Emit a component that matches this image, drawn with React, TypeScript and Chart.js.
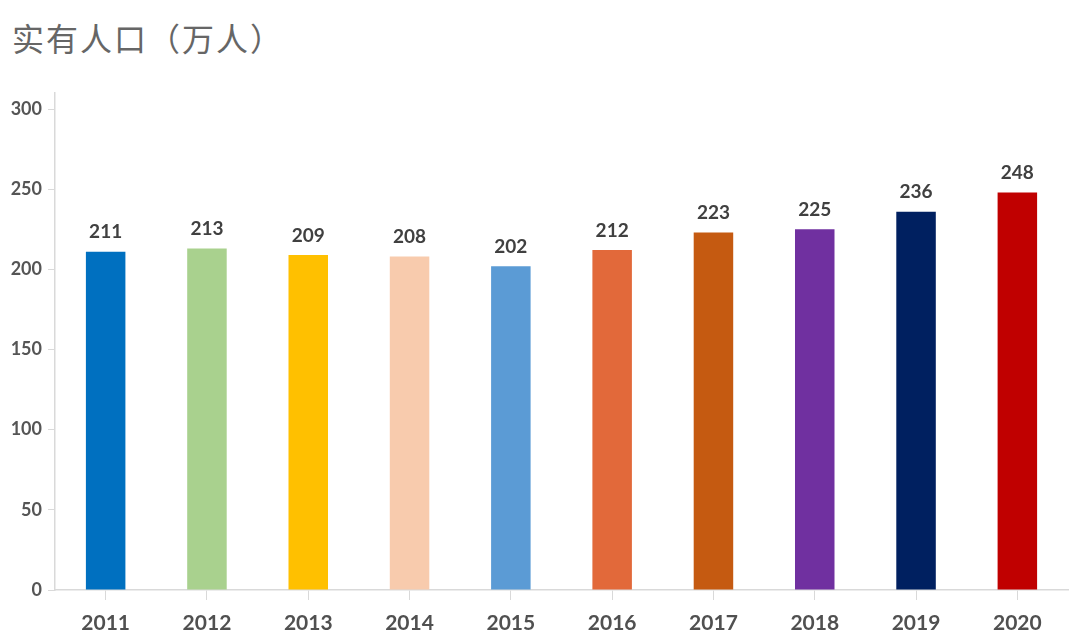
import React, { useEffect, useRef } from "react";
import { Chart, registerables } from "chart.js";

Chart.register(...registerables);

const years = ["2011", "2012", "2013", "2014", "2015", "2016", "2017", "2018", "2019", "2020"];
const population = [211, 213, 209, 208, 202, 212, 223, 225, 236, 248];
const barColors = [
  "#0070C0", "#A9D18E", "#FFC000", "#F8CBAD", "#5B9BD5",
  "#E2693A", "#C55A11", "#7030A0", "#002060", "#C00000",
];
const yTicks = [0, 50, 100, 150, 200, 250, 300];
const titleText = "实有人口（万人）";

const FONT = "Lato, 'Open Sans', 'Noto Sans', sans-serif";

const valueLabels = {
  id: "valueLabels",
  afterDatasetsDraw(chart: any) {
    const ctx = chart.ctx;
    const meta = chart.getDatasetMeta(0);
    ctx.save();
    ctx.font = `bold 19px ${FONT}`;
    ctx.fillStyle = "#404040";
    ctx.textAlign = "center";
    ctx.textBaseline = "bottom";
    meta.data.forEach((bar: any, i: number) => {
      ctx.fillText(String(population[i]), bar.x, bar.y - 10);
    });
    ctx.restore();
  },
};

export default function App() {
  const ref = useRef<HTMLCanvasElement | null>(null);
  useEffect(() => {
    if (!ref.current) return;
    const chart = new Chart(ref.current, {
      type: "bar",
      data: {
        labels: years,
        datasets: [
          {
            data: population,
            backgroundColor: barColors,
            borderWidth: 0,
            barPercentage: 0.78,
            categoryPercentage: 0.5,
          },
        ],
      },
      options: {
        animation: false,
        responsive: false,
        layout: { padding: { top: 93, right: 12, left: 0, bottom: 0 } },
        plugins: { legend: { display: false }, tooltip: { enabled: false }, title: { display: false } },
        scales: {
          x: {
            offset: true,
            grid: {
              offset: false,
              drawOnChartArea: false,
              drawTicks: true,
              tickLength: 10,
              color: "#d9d9d9",
            },
            border: { color: "#d9d9d9", width: 1.5 },
            ticks: {
              color: "#505050",
              font: { family: FONT, size: 21, weight: "bold" },
              padding: 11,
            },
            afterFit(scale: any) {
              scale.height = 54;
            },
          },
          y: {
            min: 0,
            max: 310,
            grid: {
              drawOnChartArea: false,
              drawTicks: true,
              tickLength: 7,
              color: "#d9d9d9",
            },
            border: { color: "#d9d9d9", width: 1.5 },
            ticks: {
              color: "#555555",
              font: { family: FONT, size: 18, weight: "bold" },
              padding: 6,
              stepSize: 50,
            },
            afterBuildTicks(scale: any) {
              scale.ticks = yTicks.map((v) => ({ value: v }));
            },
            afterFit(scale: any) {
              scale.width = 55;
            },
          },
        },
      },
      plugins: [valueLabels],
    } as any);
    return () => chart.destroy();
  }, []);

  return (
    <div style={{ position: "fixed", left: 0, top: 0, width: 1080, height: 644, background: "#fff" }}>
      <div
        style={{
          position: "absolute",
          left: 12,
          top: 15,
          fontFamily: "'Noto Sans CJK SC', serif",
          fontSize: 32,
          color: "#666666",
          lineHeight: "44px",
          letterSpacing: 2,
        }}
      >
        {titleText}
      </div>
      <canvas ref={ref} width={1080} height={644} style={{ position: "absolute", left: 0, top: 0 }} />
    </div>
  );
}
